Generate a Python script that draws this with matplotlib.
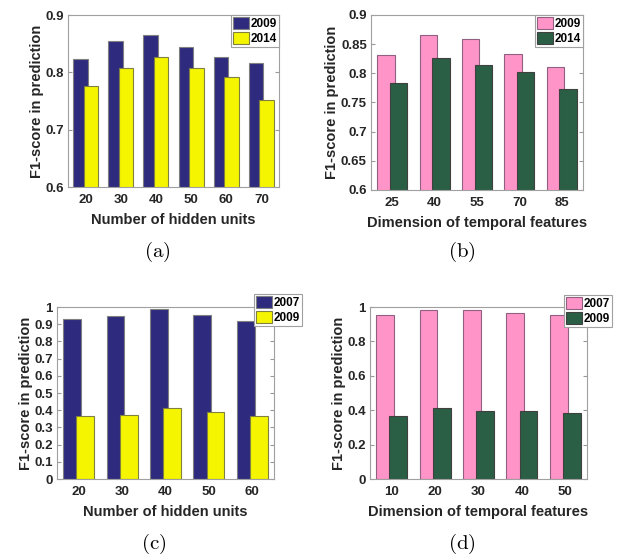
import numpy as np
import matplotlib
matplotlib.use('Agg')
import matplotlib.pyplot as plt

plt.rcParams['font.family'] = 'Liberation Sans'
plt.rcParams['font.weight'] = 'bold'
plt.rcParams['mathtext.fontset'] = 'cm'

# data
units_a = ['20', '30', '40', '50', '60', '70']
a_2009 = [0.823, 0.855, 0.865, 0.844, 0.826, 0.816]
a_2014 = [0.776, 0.807, 0.827, 0.808, 0.791, 0.751]

dims_b = ['25', '40', '55', '70', '85']
b_2009 = [0.831, 0.865, 0.859, 0.833, 0.811]
b_2014 = [0.784, 0.827, 0.815, 0.803, 0.773]

units_c = ['20', '30', '40', '50', '60']
c_2007 = [0.928, 0.946, 0.986, 0.955, 0.917]
c_2009 = [0.369, 0.375, 0.410, 0.387, 0.366]

dims_d = ['10', '20', '30', '40', '50']
d_2007 = [0.952, 0.985, 0.985, 0.966, 0.952]
d_2009 = [0.368, 0.410, 0.398, 0.395, 0.381]

navy = '#2e2b7e'
yellow = '#f5f500'
pink = '#ff94c8'
green = '#2a5e45'

W, H = 630, 557
fig = plt.figure(figsize=(W / 100, H / 100), dpi=100)


def px_axes(l, r, t, b):
    return fig.add_axes([l / W, 1 - b / H, (r - l) / W, (b - t) / H])


def panel(ax, cats, s1, s2, c1, c2, e1, e2, labels, ylim, yticks, xlabel, leg_xy):
    x = np.arange(1, len(cats) + 1)
    w = 0.41
    off = 0.15
    ax.bar(x - off, s1, w, color=c1, edgecolor=e1, linewidth=0.8, label=labels[0])
    ax.bar(x + off, s2, w, color=c2, edgecolor=e2, linewidth=0.8, label=labels[1])
    ax.set_xlim(0.5, len(cats) + 0.5)
    ax.set_ylim(*ylim)
    ax.set_xticks(x)
    ax.set_xticklabels(cats)
    ax.set_yticks(yticks)
    ax.set_yticklabels([('%g' % v) for v in yticks])
    ax.tick_params(axis='x', length=0, pad=5, labelsize=9.5, colors='#262626')
    ax.tick_params(axis='y', direction='in', length=3, right=True, pad=3,
                   labelsize=9.5, colors='#262626', color='#999999')
    for s in ax.spines.values():
        s.set_color('#a0a0a0')
        s.set_linewidth(0.8)
    ax.set_ylabel('F1-score in prediction', fontsize=10.5, fontweight='bold',
                  color='#262626', labelpad=1)
    ax.set_xlabel(xlabel, fontsize=10.5, fontweight='bold', color='#262626', labelpad=5)
    leg = ax.legend(loc='upper right', bbox_to_anchor=(leg_xy[0] / W, 1 - leg_xy[1] / H),
                    bbox_transform=fig.transFigure, fontsize=8.5, fancybox=False,
                    framealpha=1, edgecolor='#a0a0a0', borderpad=0.2,
                    labelspacing=0.2, handlelength=1.3, handleheight=1.1,
                    handletextpad=0.15, borderaxespad=0)
    leg.get_frame().set_linewidth(0.8)
    for t in leg.get_texts():
        t.set_fontweight('bold')


ax_a = px_axes(68, 279, 15, 187)
panel(ax_a, units_a, a_2009, a_2014, navy, yellow, '#808080', '#808040',
      ['2009', '2014'], (0.6, 0.9), [0.6, 0.7, 0.8, 0.9],
      'Number of hidden units', (279, 15))

ax_b = px_axes(371, 583, 15, 190)
panel(ax_b, dims_b, b_2009, b_2014, pink, green, '#906080', '#404040',
      ['2009', '2014'], (0.6, 0.9), [0.6, 0.65, 0.7, 0.75, 0.8, 0.85, 0.9],
      'Dimension of temporal features', (583, 15))

ax_c = px_axes(57, 274, 307, 479)
panel(ax_c, units_c, c_2007, c_2009, navy, yellow, '#808080', '#808040',
      ['2007', '2009'], (0, 1), list(np.round(np.arange(0, 1.01, 0.1), 1)),
      'Number of hidden units', (302, 294))

ax_d = px_axes(370, 587, 307, 479)
panel(ax_d, dims_d, d_2007, d_2009, pink, green, '#906080', '#404040',
      ['2007', '2009'], (0, 1), [0, 0.2, 0.4, 0.6, 0.8, 1],
      'Dimension of temporal features', (612, 295))

for lab, cx, cy in [('a', 157, 252), ('b', 462, 252), ('c', 154, 544), ('d', 462, 544)]:
    fig.text(cx / W, 1 - cy / H, r'$(\mathrm{%s})$' % lab, ha='center', va='center',
             fontsize=15, color='black')

fig.savefig('out.png', dpi=100)
